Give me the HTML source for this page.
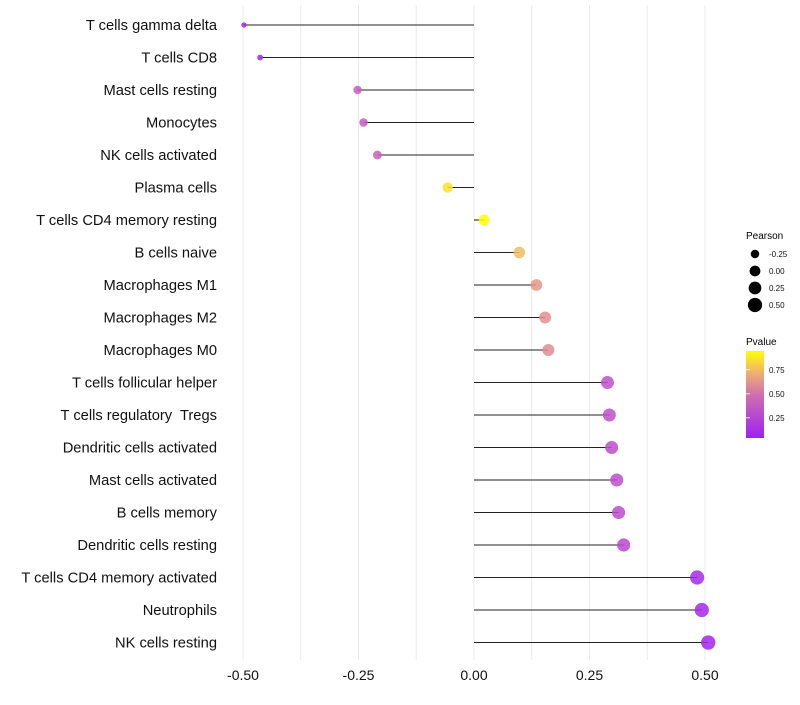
<!DOCTYPE html>
<html><head><meta charset="utf-8"><style>
body{margin:0;background:#fff;font-family:"Liberation Sans",sans-serif;}
svg text{font-family:"Liberation Sans",sans-serif;white-space:pre;}
</style></head><body>
<svg id="chart" width="800" height="700" xmlns="http://www.w3.org/2000/svg">
<defs><linearGradient id="pg" x1="0" y1="1" x2="0" y2="0">
<stop offset="0" stop-color="#a020f0"/><stop offset="0.5" stop-color="#d070b0"/><stop offset="0.75" stop-color="#f0b070"/><stop offset="1" stop-color="#ffff00"/></linearGradient></defs>
<g id="grid"></g>
<g id="marks"></g>
<g id="labels"></g>
<g id="xticks"></g>
<g>
<text x="746" y="239" font-size="10">Pearson</text>
<g id="sizeLeg"></g>
</g>
<g>
<text x="746" y="345" font-size="10">Pvalue</text>
<rect x="746" y="351" width="18" height="87" fill="url(#pg)"/>
<g id="colLeg"></g>
</g>
</svg>
<script>
const categories=["T cells gamma delta","T cells CD8","Mast cells resting","Monocytes","NK cells activated","Plasma cells","T cells CD4 memory resting","B cells naive","Macrophages M1","Macrophages M2","Macrophages M0","T cells follicular helper","T cells regulatory  Tregs","Dendritic cells activated","Mast cells activated","B cells memory","Dendritic cells resting","T cells CD4 memory activated","Neutrophils","NK cells resting"];
const pearson=[-0.498,-0.463,-0.252,-0.239,-0.209,-0.057,0.022,0.098,0.135,0.154,0.161,0.289,0.293,0.298,0.309,0.313,0.324,0.483,0.493,0.507];
const pvalues=[0.03,0.05,0.38,0.38,0.42,0.88,0.95,0.78,0.66,0.63,0.61,0.3,0.3,0.29,0.28,0.27,0.25,0.06,0.05,0.04];
const xTicks=[-0.5,-0.25,0,0.25,0.5];
const xTickLabels=["-0.50","-0.25","0.00","0.25","0.50"];
const sizeLegVals=[-0.25,0,0.25,0.5];
const sizeLegLabels=["-0.25","0.00","0.25","0.50"];
const colLegVals=[0.75,0.5,0.25];
const colLegLabels=["0.75","0.50","0.25"];

const NS="http://www.w3.org/2000/svg";
const X=v=>474+v*462;
const Y=i=>25+i*32.5;
const R=v=>Math.sqrt(Math.max(29+44*v,3.5));
const PY=p=>437-(p-0.05)*96;
function lerp(a,b,t){return a.map((x,i)=>Math.round(x+(b[i]-x)*t));}
function col(p){const s=[[0,[160,32,240]],[0.5,[208,112,176]],[0.75,[240,176,112]],[0.95,[255,255,0]]];
 p=Math.min(Math.max(p,0),0.95);for(let k=0;k<s.length-1;k++){if(p<=s[k+1][0]){const c=lerp(s[k][1],s[k+1][1],(p-s[k][0])/(s[k+1][0]-s[k][0]));return `rgb(${c})`;}}return "rgb(255,255,0)";}
function mk(t,a,parent){const e=document.createElementNS(NS,t);for(const k in a)e.setAttribute(k,a[k]);parent.appendChild(e);return e;}
const grid=document.getElementById('grid'),marks=document.getElementById('marks'),labels=document.getElementById('labels'),xt=document.getElementById('xticks');
for(let v=-0.5;v<=0.5001;v+=0.125){const l=mk('line',{x1:X(v),x2:X(v),y1:5,y2:660,stroke:'#ebebeb','stroke-width':1},grid);

}
xTicks.forEach((v,i)=>{const t=mk('text',{x:X(v),y:680,'font-size':14,'text-anchor':'middle',fill:'#111'},xt);t.textContent=xTickLabels[i];

});
categories.forEach((c,i)=>{
 const t=mk('text',{x:217,y:Y(i)+5,'font-size':14.7,'text-anchor':'end',fill:'#111'},labels);t.textContent=c;
 
 
 const l=mk('line',{x1:X(0),x2:X(pearson[i]),y1:Y(i),y2:Y(i),stroke:'#222','stroke-width':1.1},marks);
 
 
 const d=mk('circle',{cx:X(pearson[i]),cy:Y(i),r:R(pearson[i]),fill:col(pvalues[i]),'fill-opacity':0.85},marks);
 
 
});
const sl=document.getElementById('sizeLeg');
sizeLegVals.forEach((v,i)=>{const y=254+i*17;
 const c=mk('circle',{cx:755,cy:y,r:R(v),fill:'#000'},sl);
 
 
 const t=mk('text',{x:769,y:y+3,'font-size':8,fill:'#111'},sl);t.textContent=sizeLegLabels[i];
 
 });
const cl=document.getElementById('colLeg');
colLegVals.forEach((v,i)=>{const y=PY(v);
 const t=mk('text',{x:769,y:y+3,'font-size':8,fill:'#111'},cl);t.textContent=colLegLabels[i];
 
 
 const a=mk('line',{x1:746,x2:750,y1:y,y2:y,stroke:'#fff','stroke-width':0.8},cl);
 
 });
</script>
</body></html>
